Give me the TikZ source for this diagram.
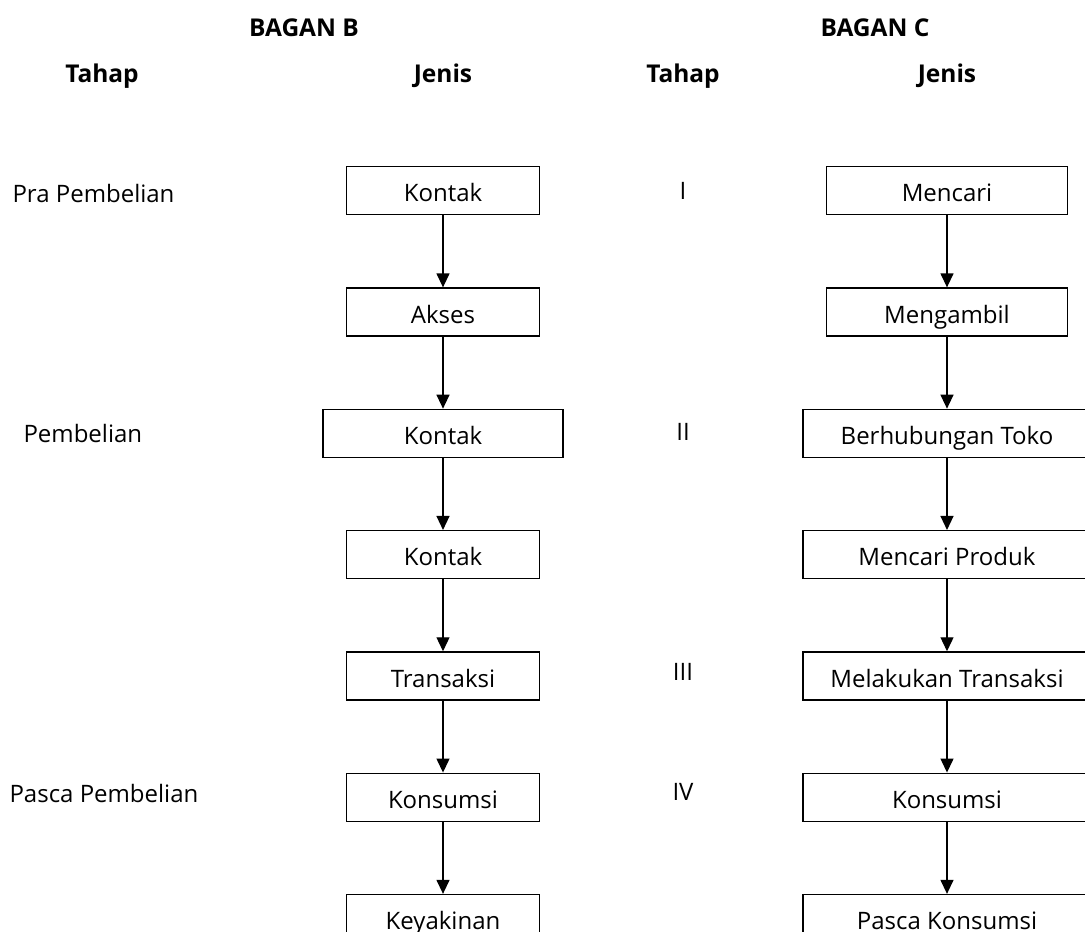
\documentclass[tikz,border=0pt]{standalone}
\usepackage{fontspec}
\setmainfont{Open Sans}
\usetikzlibrary{positioning,arrows.meta}

\begin{document}
\begin{tikzpicture}
    [x=1pt,y=1pt,node distance=72pt,
    every node/.style={font=\fontsize{24}{28}\selectfont},
    stepbox/.style={draw,line width=1.3pt,minimum height=48pt,inner sep=0pt,
      text height=22.5pt,text depth=0pt,minimum width=#1},
    stepbox/.default=193pt,
    head/.style={font=\fontsize{24.5}{28}\selectfont\bfseries},
    flow/.style={-{Triangle[length=14pt,width=13pt]},line width=1.3pt}]
    \clip (0,0) rectangle (1085,-932);
    % headings
    \node[head] (bagB) at (304,-28) {BAGAN B};
    \node[head] (bagC) at (875,-28) {BAGAN C};
    \node[head] (tahB) at (102,-76) {Tahap};
    \node[head] (jenB) at (443,-76) {Jenis};
    \node[head] (tahC) at (683,-76) {Tahap};
    \node[head] (jenC) at (947,-76) {Jenis};
    % stages
    \node[anchor=west] (pra) at (9,-193) {Pra Pembelian};
    \node[anchor=west] (beli) at (20,-433) {Pembelian};
    \node[anchor=west] (pasca) at (6,-793) {Pasca Pembelian};
    \node (s1) at (683,-191) {I};
    \node (s2) at (683,-432) {II};
    \node (s3) at (683,-672) {III};
    \node (s4) at (683,-792) {IV};
    % Bagan B
    \node[stepbox] (b1) at (443,-190.7) {Kontak};
    \node[stepbox] (b2) [below=of b1] {Akses};
    \node[stepbox=240pt] (b3) [below=of b2] {Kontak};
    \node[stepbox] (b4) [below=of b3] {Kontak};
    \node[stepbox] (b5) [below=of b4] {Transaksi};
    \node[stepbox] (b6) [below=of b5] {Konsumsi};
    \node[stepbox] (b7) [below=of b6] {Keyakinan};
    \draw[flow] (b1) -- (b2); \draw[flow] (b2) -- (b3); \draw[flow] (b3) -- (b4);
    \draw[flow] (b4) -- (b5); \draw[flow] (b5) -- (b6); \draw[flow] (b6) -- (b7);
    % Bagan C
    \node[stepbox=241pt] (c1) at (947,-190.7) {Mencari};
    \node[stepbox=241pt] (c2) [below=of c1] {Mengambil};
    \node[stepbox=288pt] (c3) [below=of c2] {Berhubungan Toko};
    \node[stepbox=288pt] (c4) [below=of c3] {Mencari Produk};
    \node[stepbox=288pt] (c5) [below=of c4] {Melakukan Transaksi};
    \node[stepbox=288pt] (c6) [below=of c5] {Konsumsi};
    \node[stepbox=288pt] (c7) [below=of c6] {Pasca Konsumsi};
    \draw[flow] (c1) -- (c2); \draw[flow] (c2) -- (c3); \draw[flow] (c3) -- (c4);
    \draw[flow] (c4) -- (c5); \draw[flow] (c5) -- (c6); \draw[flow] (c6) -- (c7);
  \end{tikzpicture}
\end{document}
